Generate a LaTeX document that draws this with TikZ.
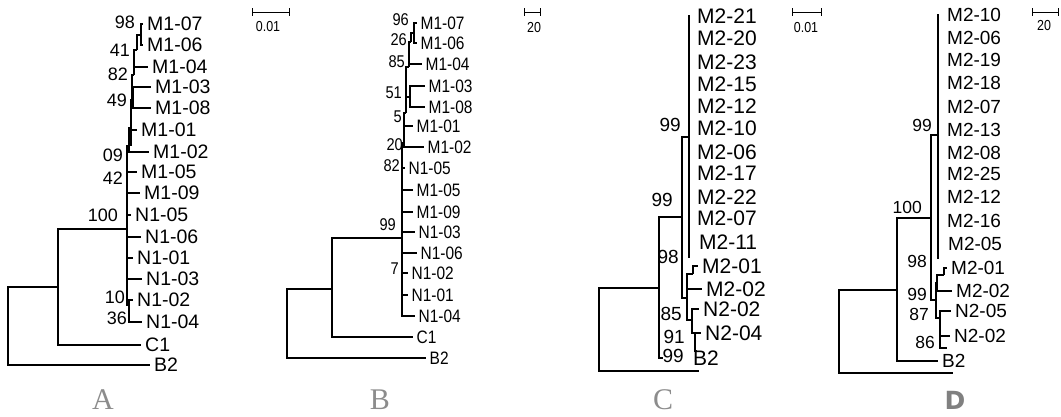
\documentclass[tikz,border=0pt]{standalone}
\usepackage{fontspec}
\setmainfont{Liberation Sans}
\newfontfamily\narrowfont{Liberation Sans}[FakeStretch=0.86]
\newfontfamily\letterfont{Liberation Serif}
\newfontfamily\boldletterfont{DejaVu Sans}
\usetikzlibrary{positioning}
\tikzset{
    branch/.style={draw=black, line width=1.4pt},
    thickbranch/.style={draw=black, line width=2.6pt},
    leafA/.style={anchor=west, inner xsep=4pt, inner ysep=0pt, font=\fontsize{19.5}{20}\selectfont},
    leafB/.style={anchor=west, inner xsep=3.5pt, inner ysep=0pt, font=\narrowfont\fontsize{18}{18}\selectfont},
    leafC/.style={anchor=west, inner xsep=4pt, inner ysep=0pt, font=\fontsize{21}{21}\selectfont},
    leafD/.style={anchor=west, inner xsep=4pt, inner ysep=0pt, font=\fontsize{19}{19}\selectfont},
    bootA/.style={anchor=east, inner sep=0pt, font=\fontsize{18}{18}\selectfont},
    bootB/.style={anchor=east, inner sep=0pt, font=\narrowfont\fontsize{17}{17}\selectfont},
    bootC/.style={anchor=east, inner sep=0pt, font=\fontsize{19}{19}\selectfont},
    bootD/.style={anchor=east, inner sep=0pt, font=\fontsize{17.5}{17.5}\selectfont},
    scalebar/.style={draw=black, line width=1pt},
    scalelabel/.style={inner sep=0pt, font=\narrowfont\fontsize{14.5}{14.5}\selectfont},
    panel/.style={text=black!45, font=\letterfont\fontsize{30}{30}\selectfont},
    boldpanel/.style={text=black!50, font=\boldletterfont\bfseries\fontsize{25}{25}\selectfont}
}
\begin{document}
\begin{tikzpicture}[x=1pt,y=-1pt]
\useasboundingbox (0,0) rectangle (1061,416);

% ---- tree A
\node[leafA] (aM107) at (143,24) {M1-07};
\node[leafA] (aM106) at (143,45) {M1-06};
\node[leafA] (aM104) at (148,67) {M1-04};
\node[leafA] (aM103) at (151,87) {M1-03};
\node[leafA] (aM108) at (151,108) {M1-08};
\node[leafA] (aM101) at (137,130) {M1-01};
\node[leafA] (aM102) at (149,152) {M1-02};
\node[leafA] (aM105) at (137,172) {M1-05};
\node[leafA] (aM109) at (140,193) {M1-09};
\node[leafA] (aN105) at (131,215) {N1-05};
\node[leafA] (aN106) at (141,237) {N1-06};
\node[leafA] (aN101) at (133,258) {N1-01};
\node[leafA] (aN103) at (142,279) {N1-03};
\node[leafA] (aN102) at (133,300) {N1-02};
\node[leafA] (aN104) at (142,322) {N1-04};
\node[leafA] (aC1) at (141,345) {C1};
\node[leafA] (aB2) at (150,365) {B2};
\coordinate (aR) at (8,326);
\coordinate (aN1) at (58,287);
\coordinate (aG) at (127,229);
\coordinate (a98) at (141,35);
\coordinate (a41) at (137,50);
\coordinate (a82) at (134,75);
\coordinate (a38) at (133,98);
\coordinate (a49) at (132,100);
\coordinate (a01) at (131,128);
\coordinate (a09) at (129,146);
\coordinate (a36) at (129,305);
\draw[branch] (aR) |- (aN1) (aR) |- (aB2.west);
\draw[branch] (aN1) |- (aG) (aN1) |- (aC1.west);
\draw[branch] (aG) |- (a09) (aG) |- (aM105.west) (aG) |- (aM109.west)
    (aG) |- (aN105.west) (aG) |- (aN106.west) (aG) |- (aN101.west)
    (aG) |- (aN103.west) (aG) |- (a36);
\draw[branch] (a36) |- (aN102.west) (a36) |- (aN104.west);
\draw[branch] (a09) |- (a01) (a09) |- (aM102.west);
\draw[branch] (a01) |- (a49) (a01) |- (aM101.west);
\draw[branch] (a49) |- (a82) (a49) |- (a38);
\draw[branch] (a38) |- (aM103.west) (a38) |- (aM108.west);
\draw[branch] (a82) |- (a41) (a82) |- (aM104.west);
\draw[branch] (a41) |- (a98);
\draw[branch] (a98) |- (aM107.west) (a98) |- (aM106.west);
\draw[thickbranch] (aG |- a09) -- (aG |- aN102);
\draw[thickbranch] (a82 |- a41) -- (a82);
\draw[thickbranch] (a01 |- a49) -- (a01 |- a09);
\node[bootA] (aB98) at (135,22) {98};
\node[bootA] (aB41) at (130,50) {41};
\node[bootA] (aB82) at (128,74) {82};
\node[bootA] (aB49) at (127,100) {49};
\node[bootA] (aB09) at (123,155) {09};
\node[bootA] (aB42) at (123,178) {42};
\node[bootA] (aB100) at (118,215) {100};
\node[bootA] (aB10) at (125,297) {10};
\node[bootA] (aB36) at (127,318) {36};
\coordinate (sbAl) at (252,12);
\coordinate (sbAr) at (289,12);
\draw[scalebar] (sbAl) -- (sbAr);
\draw[scalebar] ([yshift=4pt]sbAl) -- ([yshift=-4pt]sbAl) ([yshift=4pt]sbAr) -- ([yshift=-4pt]sbAr);
\node[scalelabel] (sA) at (268,27) {0.01};
\node[panel] (pA) at (103,400) {A};

% ---- tree B
\node[leafB] (bM107) at (417,23) {M1-07};
\node[leafB] (bM106) at (417,43) {M1-06};
\node[leafB] (bM104) at (422,64) {M1-04};
\node[leafB] (bM103) at (425,86) {M1-03};
\node[leafB] (bM108) at (425,107) {M1-08};
\node[leafB] (bM101) at (413,126) {M1-01};
\node[leafB] (bM102) at (424,147) {M1-02};
\node[leafB] (bN105) at (405,168) {N1-05};
\node[leafB] (bM105) at (413,190) {M1-05};
\node[leafB] (bM109) at (413,212) {M1-09};
\node[leafB] (bN103) at (415,232) {N1-03};
\node[leafB] (bN106) at (417,253) {N1-06};
\node[leafB] (bN102) at (408,273) {N1-02};
\node[leafB] (bN101) at (408,295) {N1-01};
\node[leafB] (bN104) at (415,316) {N1-04};
\node[leafB] (bC1) at (413,337) {C1};
\node[leafB] (bB2) at (426,358) {B2};
\coordinate (bR) at (287,320);
\coordinate (bN1) at (332,289);
\coordinate (bG) at (402,238);
\coordinate (b5) at (404,143);
\coordinate (b51u) at (406,113);
\coordinate (b51) at (410,97);
\coordinate (b85) at (409,67);
\coordinate (b26) at (411,42);
\coordinate (b96) at (414,33);
\draw[branch] (bR) |- (bN1) (bR) |- (bB2.west);
\draw[branch] (bN1) |- (bG) (bN1) |- (bC1.west);
\draw[branch] (bG) |- (b5) (bG) |- (bN105.west) (bG) |- (bM105.west)
    (bG) |- (bM109.west) (bG) |- (bN103.west) (bG) |- (bN106.west)
    (bG) |- (bN102.west) (bG) |- (bN101.west) (bG) |- (bN104.west);
\draw[branch] (b5) |- (b51u) (b5) |- (bM101.west) (b5) |- (bM102.west);
\draw[branch] (b51u) |- (b85) (b51u) |- (b51);
\draw[branch] (b51) |- (bM103.west) (b51) |- (bM108.west);
\draw[branch] (b85) |- (b26) (b85) |- (bM104.west);
\draw[branch] (b26) |- (b96);
\draw[branch] (b96) |- (bM107.west) (b96) |- (bM106.west);
\draw[thickbranch] (b5 |- b51u) -- (b5);
\draw[thickbranch] (b85 |- b26) -- (b85);
\draw[branch, line width=2pt] (bG |- b5) -- (bG |- bN101);
\node[bootB] (bB96) at (409,20) {96};
\node[bootB] (bB26) at (407,40) {26};
\node[bootB] (bB85) at (405,62) {85};
\node[bootB] (bB51) at (402,93) {51};
\node[bootB] (bB5) at (402,117) {5};
\node[bootB] (bB20) at (403,145) {20};
\node[bootB] (bB82) at (400,166) {82};
\node[bootB] (bB99) at (396,225) {99};
\node[bootB] (bB7) at (399,269) {7};
\coordinate (sbBl) at (524,12);
\coordinate (sbBr) at (540,12);
\draw[scalebar] (sbBl) -- (sbBr);
\draw[scalebar] ([yshift=4pt]sbBl) -- ([yshift=-4pt]sbBl) ([yshift=4pt]sbBr) -- ([yshift=-4pt]sbBr);
\node[scalelabel] (sB) at (534,28) {20};
\node[panel] (pB) at (380,400) {B};

% ---- tree C
\node[leafC, inner xsep=7pt] (cM221) at (690,16) {M2-21};
\node[leafC, inner xsep=7pt] (cM220) at (690,38) {M2-20};
\node[leafC, inner xsep=7pt] (cM223) at (690,62) {M2-23};
\node[leafC, inner xsep=7pt] (cM215) at (690,84) {M2-15};
\node[leafC, inner xsep=7pt] (cM212) at (690,106) {M2-12};
\node[leafC, inner xsep=7pt] (cM210) at (690,128) {M2-10};
\node[leafC, inner xsep=7pt] (cM206) at (690,152) {M2-06};
\node[leafC, inner xsep=7pt] (cM217) at (690,173) {M2-17};
\node[leafC, inner xsep=7pt] (cM222) at (690,197) {M2-22};
\node[leafC, inner xsep=7pt] (cM207) at (690,218) {M2-07};
\node[leafC, inner xsep=9pt] (cM211) at (690,242) {M2-11};
\node[leafC] (cM201) at (698,266) {M2-01};
\node[leafC] (cM202) at (702,289) {M2-02};
\node[leafC] (cN202) at (699,309) {N2-02};
\node[leafC] (cN204) at (701,333) {N2-04};
\node[leafC, inner xsep=30pt] (cB2) at (663,358) {B2};
\coordinate (cR) at (599,330);
\coordinate (c98) at (659,288);
\coordinate (c99b) at (682,217);
\coordinate (c99a) at (689,137);
\coordinate (c85) at (687,298);
\coordinate (c01) at (693,274);
\coordinate (c91) at (692,320);
\coordinate (c91b) at (695,333);
\coordinate (cTail) at (690,257);
\coordinate (cStub) at (697,351);
\coordinate (cOut) at (699,371);
\draw[branch] (cR) |- (c98) (cR) |- (cOut);
\draw[branch] (c98) |- (c99b) (c98) |- (cB2.west);
\draw[branch] (c99b) |- (c99a) (c99b) |- (c85);
\draw[branch] (c99a) |- (cM221.west) (c99a) |- (cM220.west) (c99a) |- (cM223.west)
    (c99a) |- (cM215.west) (c99a) |- (cM212.west) (c99a) |- (cM210.west)
    (c99a) |- (cM206.west) (c99a) |- (cM217.west) (c99a) |- (cM222.west)
    (c99a) |- (cM207.west) (c99a) |- (cM211.west) (c99a) |- (cTail);
\draw[branch] (c85) |- (c01) (c85) |- (cM202.west) (c85) |- (c91);
\draw[branch] (c01) |- (cM201.west);
\draw[branch] (c91) |- (cN202.west) (c91) |- (c91b);
\draw[branch] (c91b) |- (cN204.west) (c91b) |- (cStub);
\node[bootC] (cB99a) at (681,125) {99};
\node[bootC] (cB99b) at (673,200) {99};
\node[bootC] (cB98) at (679,257) {98};
\node[bootC] (cB85) at (682,314) {85};
\node[bootC] (cB91) at (685,337) {91};
\node[bootC] (cB99c) at (684,356) {99};
\coordinate (sbCl) at (792,12);
\coordinate (sbCr) at (821,12);
\draw[scalebar] (sbCl) -- (sbCr);
\draw[scalebar] ([yshift=4pt]sbCl) -- ([yshift=-4pt]sbCl) ([yshift=4pt]sbCr) -- ([yshift=-4pt]sbCr);
\node[scalelabel] (sC) at (806,28) {0.01};
\node[panel] (pC) at (663,400) {C};

% ---- tree D
\node[leafD, inner xsep=8pt] (dM210) at (939,15) {M2-10};
\node[leafD, inner xsep=8pt] (dM206) at (939,38) {M2-06};
\node[leafD, inner xsep=8pt] (dM219) at (939,60) {M2-19};
\node[leafD, inner xsep=8pt] (dM218) at (939,83) {M2-18};
\node[leafD, inner xsep=8pt] (dM207) at (939,107) {M2-07};
\node[leafD, inner xsep=8pt] (dM213) at (939,130) {M2-13};
\node[leafD, inner xsep=8pt] (dM208) at (939,153) {M2-08};
\node[leafD, inner xsep=8pt] (dM225) at (939,174) {M2-25};
\node[leafD, inner xsep=8pt] (dM212) at (939,197) {M2-12};
\node[leafD, inner xsep=8pt] (dM216) at (939,221) {M2-16};
\node[leafD, inner xsep=9pt] (dM205) at (939,244) {M2-05};
\node[leafD] (dM201) at (947,268) {M2-01};
\node[leafD] (dM202) at (952,291) {M2-02};
\node[leafD] (dN205) at (951,311) {N2-05};
\node[leafD] (dN202) at (950,336) {N2-02};
\node[leafD] (dB2) at (938,361) {B2};
\coordinate (dR) at (839,330);
\coordinate (d100) at (897,290);
\coordinate (d99) at (931,218);
\coordinate (dm) at (938,135);
\coordinate (d98) at (936,300);
\coordinate (d0102) at (937,283);
\coordinate (d01b) at (944,275);
\coordinate (d87) at (940,318);
\coordinate (dTail) at (939,258);
\coordinate (dEnd) at (947,348);
\coordinate (dOut) at (953,373);
\draw[branch] (dR) |- (d100) (dR) |- (dOut);
\draw[branch] (d100) |- (d99) (d100) |- (dB2.west);
\draw[branch] (d99) |- (dm) (d99) |- (d98);
\draw[branch] (dm) |- (dM210.west) (dm) |- (dM206.west) (dm) |- (dM219.west)
    (dm) |- (dM218.west) (dm) |- (dM207.west) (dm) |- (dM213.west)
    (dm) |- (dM208.west) (dm) |- (dM225.west) (dm) |- (dM212.west)
    (dm) |- (dM216.west) (dm) |- (dM205.west) (dm) |- (dTail);
\draw[branch] (d98) |- (d0102) (d98) |- (d87);
\draw[branch] (d0102) |- (d01b) (d0102) |- (dM202.west);
\draw[branch] (d01b) |- (dM201.west);
\draw[branch] (d87) |- (dN205.west) (d87) |- (dN202.west) (d87) |- (dEnd);
\node[bootD] (dB99a) at (932,125) {99};
\node[bootD] (dB100) at (922,207) {100};
\node[bootD] (dB98) at (927,261) {98};
\node[bootD] (dB99b) at (927,294) {99};
\node[bootD] (dB87) at (929,314) {87};
\node[bootD] (dB86) at (935,342) {86};
\coordinate (sbDl) at (1032,12);
\coordinate (sbDr) at (1058,12);
\draw[scalebar] (sbDl) -- (sbDr);
\draw[scalebar] ([yshift=4pt]sbDl) -- ([yshift=-4pt]sbDl) ([yshift=4pt]sbDr) -- ([yshift=-4pt]sbDr);
\node[scalelabel] (sD) at (1044,26) {20};
\node[boldpanel] (pD) at (955,400) {D};
\end{tikzpicture}
\end{document}
